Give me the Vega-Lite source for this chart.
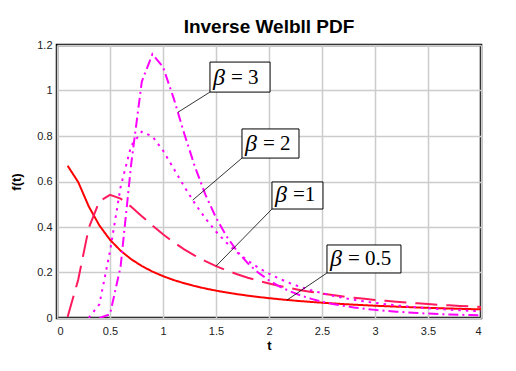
{
  "$schema": "https://vega.github.io/schema/vega-lite/v6.json",
  "width": 424,
  "height": 273,
  "autosize": {"type": "none"},
  "padding": {"left": 57, "top": 45, "right": 35, "bottom": 53},
  "background": "white",
  "title": {"text": "Inverse Welbll PDF", "font": "Liberation Sans", "fontSize": 19, "fontWeight": "bold", "color": "#000000", "anchor": "middle", "offset": 2},
  "config": {
    "view": {"stroke": "#000000", "strokeWidth": 2.5},
    "axis": {
      "labelFont": "Liberation Sans", "labelFontSize": 11, "labelColor": "#222222",
      "titleFont": "Liberation Sans", "titleFontSize": 13, "titleFontWeight": "bold", "titleColor": "#000000",
      "ticks": false, "domain": false, "gridColor": "#cccccc", "gridWidth": 1.5
    }
  },
  "datasets": {
    "curves": [
      {"t":0.1,"f":0.6693,"beta":"0.5"},{"t":0.2,"f":0.5975,"beta":"0.5"},{"t":0.3,"f":0.4902,"beta":"0.5"},{"t":0.4,"f":0.4066,"beta":"0.5"},{"t":0.5,"f":0.3438,"beta":"0.5"},
      {"t":0.6,"f":0.2959,"beta":"0.5"},{"t":0.7,"f":0.2584,"beta":"0.5"},{"t":0.8,"f":0.2284,"beta":"0.5"},{"t":0.9,"f":0.2041,"beta":"0.5"},{"t":1.0,"f":0.1839,"beta":"0.5"},
      {"t":1.1,"f":0.1670,"beta":"0.5"},{"t":1.2,"f":0.1527,"beta":"0.5"},{"t":1.3,"f":0.1403,"beta":"0.5"},{"t":1.4,"f":0.1296,"beta":"0.5"},{"t":1.5,"f":0.1203,"beta":"0.5"},
      {"t":1.6,"f":0.1121,"beta":"0.5"},{"t":1.7,"f":0.1048,"beta":"0.5"},{"t":1.8,"f":0.0983,"beta":"0.5"},{"t":1.9,"f":0.0924,"beta":"0.5"},{"t":2.0,"f":0.0872,"beta":"0.5"},
      {"t":2.1,"f":0.0824,"beta":"0.5"},{"t":2.2,"f":0.0781,"beta":"0.5"},{"t":2.3,"f":0.0741,"beta":"0.5"},{"t":2.4,"f":0.0705,"beta":"0.5"},{"t":2.5,"f":0.0672,"beta":"0.5"},
      {"t":2.6,"f":0.0641,"beta":"0.5"},{"t":2.7,"f":0.0613,"beta":"0.5"},{"t":2.8,"f":0.0587,"beta":"0.5"},{"t":2.9,"f":0.0563,"beta":"0.5"},{"t":3.0,"f":0.0540,"beta":"0.5"},
      {"t":3.1,"f":0.0519,"beta":"0.5"},{"t":3.2,"f":0.0499,"beta":"0.5"},{"t":3.3,"f":0.0481,"beta":"0.5"},{"t":3.4,"f":0.0464,"beta":"0.5"},{"t":3.5,"f":0.0447,"beta":"0.5"},
      {"t":3.6,"f":0.0432,"beta":"0.5"},{"t":3.7,"f":0.0418,"beta":"0.5"},{"t":3.8,"f":0.0404,"beta":"0.5"},{"t":3.9,"f":0.0391,"beta":"0.5"},{"t":4.0,"f":0.0379,"beta":"0.5"},

      {"t":0.1,"f":0.0045,"beta":"1"},{"t":0.2,"f":0.1684,"beta":"1"},{"t":0.3,"f":0.3964,"beta":"1"},{"t":0.4,"f":0.5130,"beta":"1"},{"t":0.5,"f":0.5413,"beta":"1"},
      {"t":0.6,"f":0.5247,"beta":"1"},{"t":0.7,"f":0.4891,"beta":"1"},{"t":0.8,"f":0.4477,"beta":"1"},{"t":0.9,"f":0.4064,"beta":"1"},{"t":1.0,"f":0.3679,"beta":"1"},
      {"t":1.1,"f":0.3330,"beta":"1"},{"t":1.2,"f":0.3018,"beta":"1"},{"t":1.3,"f":0.2742,"beta":"1"},{"t":1.4,"f":0.2498,"beta":"1"},{"t":1.5,"f":0.2282,"beta":"1"},
      {"t":1.6,"f":0.2091,"beta":"1"},{"t":1.7,"f":0.1921,"beta":"1"},{"t":1.8,"f":0.1771,"beta":"1"},{"t":1.9,"f":0.1637,"beta":"1"},{"t":2.0,"f":0.1516,"beta":"1"},
      {"t":2.1,"f":0.1409,"beta":"1"},{"t":2.2,"f":0.1311,"beta":"1"},{"t":2.3,"f":0.1224,"beta":"1"},{"t":2.4,"f":0.1145,"beta":"1"},{"t":2.5,"f":0.1073,"beta":"1"},
      {"t":2.6,"f":0.1007,"beta":"1"},{"t":2.7,"f":0.0947,"beta":"1"},{"t":2.8,"f":0.0892,"beta":"1"},{"t":2.9,"f":0.0842,"beta":"1"},{"t":3.0,"f":0.0796,"beta":"1"},
      {"t":3.1,"f":0.0754,"beta":"1"},{"t":3.2,"f":0.0714,"beta":"1"},{"t":3.3,"f":0.0678,"beta":"1"},{"t":3.4,"f":0.0645,"beta":"1"},{"t":3.5,"f":0.0613,"beta":"1"},
      {"t":3.6,"f":0.0584,"beta":"1"},{"t":3.7,"f":0.0557,"beta":"1"},{"t":3.8,"f":0.0532,"beta":"1"},{"t":3.9,"f":0.0509,"beta":"1"},{"t":4.0,"f":0.0487,"beta":"1"},

      {"t":0.3,"f":0.0011,"beta":"2"},{"t":0.4,"f":0.0603,"beta":"2"},{"t":0.5,"f":0.2930,"beta":"2"},
      {"t":0.6,"f":0.5757,"beta":"2"},{"t":0.7,"f":0.7577,"beta":"2"},{"t":0.8,"f":0.8188,"beta":"2"},{"t":0.9,"f":0.7982,"beta":"2"},{"t":1.0,"f":0.7358,"beta":"2"},
      {"t":1.1,"f":0.6575,"beta":"2"},{"t":1.2,"f":0.5780,"beta":"2"},{"t":1.3,"f":0.5038,"beta":"2"},{"t":1.4,"f":0.4376,"beta":"2"},{"t":1.5,"f":0.3800,"beta":"2"},
      {"t":1.6,"f":0.3304,"beta":"2"},{"t":1.7,"f":0.2880,"beta":"2"},{"t":1.8,"f":0.2519,"beta":"2"},{"t":1.9,"f":0.2210,"beta":"2"},{"t":2.0,"f":0.1947,"beta":"2"},
      {"t":2.1,"f":0.1721,"beta":"2"},{"t":2.2,"f":0.1528,"beta":"2"},{"t":2.3,"f":0.1361,"beta":"2"},{"t":2.4,"f":0.1216,"beta":"2"},{"t":2.5,"f":0.1091,"beta":"2"},
      {"t":2.6,"f":0.0981,"beta":"2"},{"t":2.7,"f":0.0886,"beta":"2"},{"t":2.8,"f":0.0802,"beta":"2"},{"t":2.9,"f":0.0728,"beta":"2"},{"t":3.0,"f":0.0663,"beta":"2"},
      {"t":3.1,"f":0.0605,"beta":"2"},{"t":3.2,"f":0.0554,"beta":"2"},{"t":3.3,"f":0.0508,"beta":"2"},{"t":3.4,"f":0.0467,"beta":"2"},{"t":3.5,"f":0.0430,"beta":"2"},
      {"t":3.6,"f":0.0397,"beta":"2"},{"t":3.7,"f":0.0367,"beta":"2"},{"t":3.8,"f":0.0340,"beta":"2"},{"t":3.9,"f":0.0316,"beta":"2"},{"t":4.0,"f":0.0294,"beta":"2"},

      {"t":0.4,"f":0.0000,"beta":"3"},{"t":0.5,"f":0.0161,"beta":"3"},
      {"t":0.6,"f":0.2259,"beta":"3"},{"t":0.7,"f":0.6768,"beta":"3"},{"t":0.8,"f":1.0389,"beta":"3"},{"t":0.9,"f":1.1599,"beta":"3"},{"t":1.0,"f":1.1036,"beta":"3"},
      {"t":1.1,"f":0.9667,"beta":"3"},{"t":1.2,"f":0.8111,"beta":"3"},{"t":1.3,"f":0.6663,"beta":"3"},{"t":1.4,"f":0.5424,"beta":"3"},{"t":1.5,"f":0.4406,"beta":"3"},
      {"t":1.6,"f":0.3586,"beta":"3"},{"t":1.7,"f":0.2930,"beta":"3"},{"t":1.8,"f":0.2407,"beta":"3"},{"t":1.9,"f":0.1990,"beta":"3"},{"t":2.0,"f":0.1655,"beta":"3"},
      {"t":2.1,"f":0.1385,"beta":"3"},{"t":2.2,"f":0.1166,"beta":"3"},{"t":2.3,"f":0.0987,"beta":"3"},{"t":2.4,"f":0.0841,"beta":"3"},{"t":2.5,"f":0.0720,"beta":"3"},
      {"t":2.6,"f":0.0620,"beta":"3"},{"t":2.7,"f":0.0537,"beta":"3"},{"t":2.8,"f":0.0466,"beta":"3"},{"t":2.9,"f":0.0407,"beta":"3"},{"t":3.0,"f":0.0357,"beta":"3"},
      {"t":3.1,"f":0.0314,"beta":"3"},{"t":3.2,"f":0.0278,"beta":"3"},{"t":3.3,"f":0.0246,"beta":"3"},{"t":3.4,"f":0.0219,"beta":"3"},{"t":3.5,"f":0.0195,"beta":"3"},
      {"t":3.6,"f":0.0175,"beta":"3"},{"t":3.7,"f":0.0157,"beta":"3"},{"t":3.8,"f":0.0141,"beta":"3"},{"t":3.9,"f":0.0128,"beta":"3"},{"t":4.0,"f":0.0115,"beta":"3"}
    ],
    "notes": [
      {"label": "= 3", "x1": 1.443, "x2": 2.01, "y1": 0.993, "y2": 1.125, "lx": 1.14, "ly": 0.904},
      {"label": "= 2", "x1": 1.745, "x2": 2.283, "y1": 0.703, "y2": 0.831, "lx": 1.28, "ly": 0.518},
      {"label": "=1", "x1": 2.028, "x2": 2.509, "y1": 0.479, "y2": 0.598, "lx": 1.5, "ly": 0.228},
      {"label": "= 0.5", "x1": 2.547, "x2": 3.245, "y1": 0.198, "y2": 0.321, "lx": 2.17, "ly": 0.079}
    ]
  },
  "layer": [
    {
      "data": {"name": "curves"},
      "mark": {"type": "line", "strokeWidth": 2, "clip": true},
      "encoding": {
        "x": {"field": "t", "type": "quantitative", "scale": {"domain": [0, 4], "nice": false},
              "axis": {"title": "t", "values": [0, 0.5, 1, 1.5, 2, 2.5, 3, 3.5, 4], "format": "~g", "labelPadding": 7, "titlePadding": 3}},
        "y": {"field": "f", "type": "quantitative", "scale": {"domain": [0, 1.2], "nice": false},
              "axis": {"title": "f(t)", "values": [0, 0.2, 0.4, 0.6, 0.8, 1, 1.2], "format": "~g", "labelPadding": 5, "titlePadding": 13}},
        "color": {"field": "beta", "type": "nominal", "legend": null,
                  "scale": {"domain": ["0.5", "1", "2", "3"], "range": ["#ff0000", "#ff1a5e", "#ff00ff", "#ff00ff"]}},
        "strokeDash": {"field": "beta", "type": "nominal", "legend": null,
                  "scale": {"domain": ["0.5", "1", "2", "3"], "range": [[1, 0], [22, 9], [2.5, 5], [10, 4, 2, 4]]}}
      }
    },
    {
      "data": {"name": "notes"},
      "mark": {"type": "rule", "color": "#000000", "strokeWidth": 0.8},
      "encoding": {
        "x": {"field": "x1", "type": "quantitative"},
        "y": {"field": "y1", "type": "quantitative"},
        "x2": {"field": "lx"},
        "y2": {"field": "ly"}
      }
    },
    {
      "data": {"name": "notes"},
      "mark": {"type": "rect", "fill": "#ffffff", "stroke": "#000000", "strokeWidth": 1},
      "encoding": {
        "x": {"field": "x1", "type": "quantitative"},
        "x2": {"field": "x2"},
        "y": {"field": "y1", "type": "quantitative"},
        "y2": {"field": "y2"}
      }
    },
    {
      "data": {"name": "notes"},
      "mark": {"type": "text", "text": "β", "font": "Liberation Serif", "fontStyle": "italic", "fontSize": 24, "align": "left", "baseline": "middle", "dx": 3, "dy": -14, "color": "#000000"},
      "encoding": {
        "x": {"field": "x1", "type": "quantitative"},
        "y": {"field": "y1", "type": "quantitative"}
      }
    },
    {
      "data": {"name": "notes"},
      "mark": {"type": "text", "font": "Liberation Serif", "fontSize": 21, "align": "left", "baseline": "middle", "dx": 21, "dy": -14, "color": "#000000"},
      "encoding": {
        "x": {"field": "x1", "type": "quantitative"},
        "y": {"field": "y1", "type": "quantitative"},
        "text": {"field": "label"}
      }
    }
  ]
}
